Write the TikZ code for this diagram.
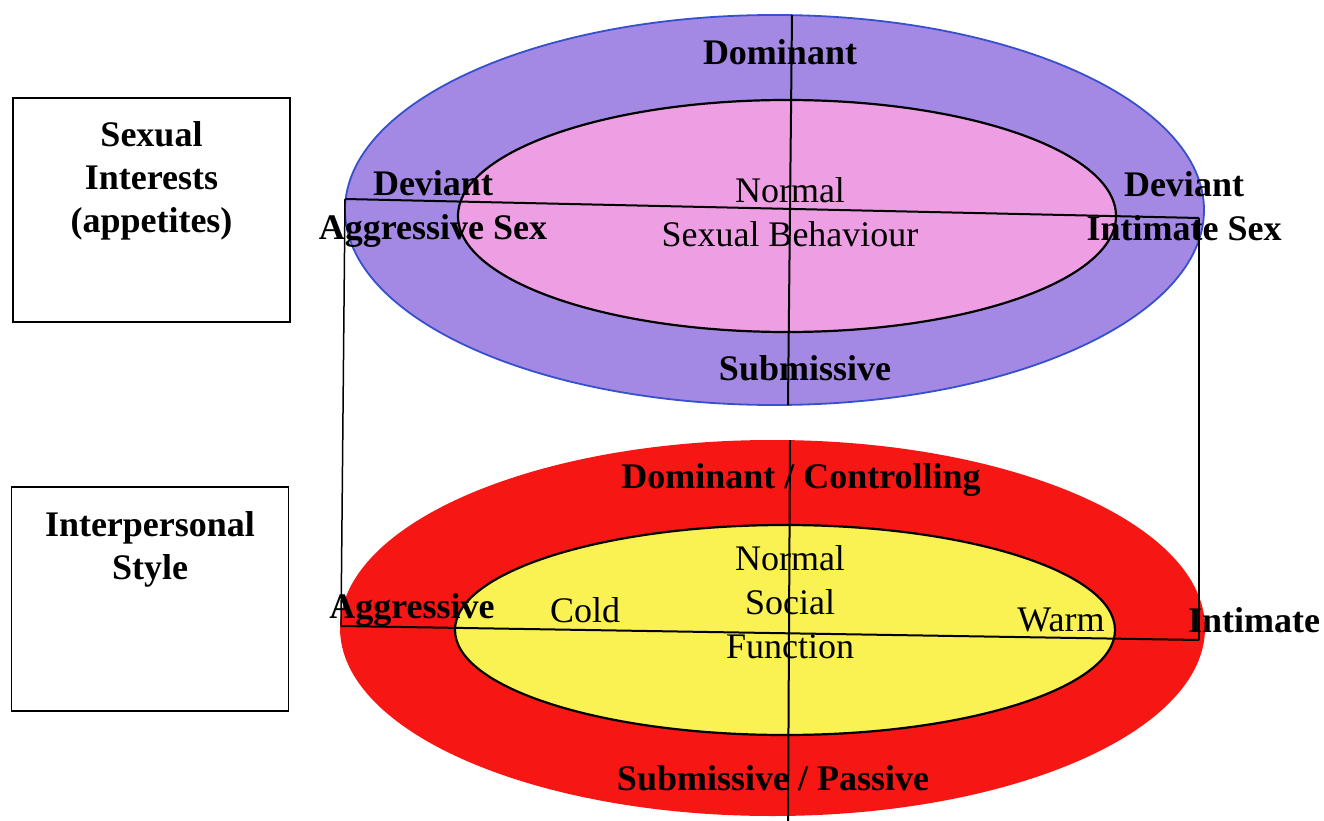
\documentclass[tikz,border=0pt]{standalone}
\usepackage{fontspec}
\setmainfont{Liberation Serif}
\usetikzlibrary{shapes.geometric}
\definecolor{lavender}{RGB}{164,137,228}
\definecolor{rimblue}{RGB}{55,80,205}
\definecolor{rosepink}{RGB}{238,158,226}
\definecolor{brightred}{RGB}{246,22,20}
\definecolor{lemon}{RGB}{250,242,82}
\begin{document}
\begin{tikzpicture}[x=1pt,y=-1pt,
  lbl/.style={inner sep=0pt,align=center,font=\fontsize{36}{44}\selectfont},
  blbl/.style={lbl,font=\fontsize{36}{44}\selectfont\bfseries},
  titlebox/.style={draw=black,line width=1.8pt,minimum width=277pt,minimum height=224pt,inner sep=0pt},
  axis/.style={draw=black,line width=2pt},
  rim/.style={draw=black,line width=2.2pt}]
\useasboundingbox (0,0) rectangle (1324,821);
\fill[white] (0,0) rectangle (1324,821);

% left-hand title boxes
\node[titlebox] (boxA) at (151.5,210) {};
\node[blbl,anchor=north,font=\fontsize{36}{43}\selectfont\bfseries] (tA) at (151.5,121) {Sexual\\Interests\\(appetites)};
\node[titlebox] (boxB) at (150,599) {};
\node[blbl,anchor=north,font=\fontsize{36}{43}\selectfont\bfseries] (tB) at (150,511) {Interpersonal\\Style};

% upper ellipses: sexual interests
\path[fill=lavender,draw=rimblue,line width=1.8pt] (774.5,210) ellipse [x radius=429.5,y radius=195];
\path[fill=rosepink,rim] (787,216) ellipse [x radius=329,y radius=116];
\coordinate (uL) at (345,199);
\coordinate (uR) at (1199,218);
\coordinate (uT) at (792,15);
\coordinate (uB) at (788,405);
\draw[axis] (uL) -- (uR);
\draw[axis] (uT) -- (uB);

% lower ellipses: interpersonal style
\path[fill=brightred] (772.5,628) ellipse [x radius=432.5,y radius=188];
\path[fill=lemon,rim] (785,630) ellipse [x radius=330,y radius=105];
\coordinate (lL) at (341,626);
\coordinate (lR) at (1199,640);
\coordinate (lT) at (790,440);
\coordinate (lB) at (788,821);
\draw[axis] (lL) -- (lR);
\draw[axis] (lT) -- (lB);

% uprights joining the two figures
\draw[axis,line width=1.5pt] (uL) -- (lL);
\draw[axis,line width=1.5pt] (uR) -- (lR);

% upper labels
\node[blbl] (dom) at (780,52) {Dominant};
\node[blbl] (sub) at (805,368) {Submissive};
\node[blbl,text depth=0pt] (devA) at (433,205) {Deviant\\Aggressive Sex};
\node[lbl] (norm) at (790,212) {Normal\\Sexual Behaviour};
\node[blbl] (devI) at (1184,206) {Deviant\\Intimate Sex};

% lower labels
\node[blbl] (domc) at (801,480) {Dominant / Controlling};
\node[blbl] (subp) at (773,778) {Submissive / Passive};
\node[lbl] (nsf) at (790,602) {Normal\\Social\\Function};
\node[blbl] (agg) at (412,610) {Aggressive};
\node[lbl] (cold) at (585,610) {Cold};
\node[lbl] (warm) at (1061,620) {Warm};
\node[blbl] (inti) at (1254,620) {Intimate};
\end{tikzpicture}
\end{document}
